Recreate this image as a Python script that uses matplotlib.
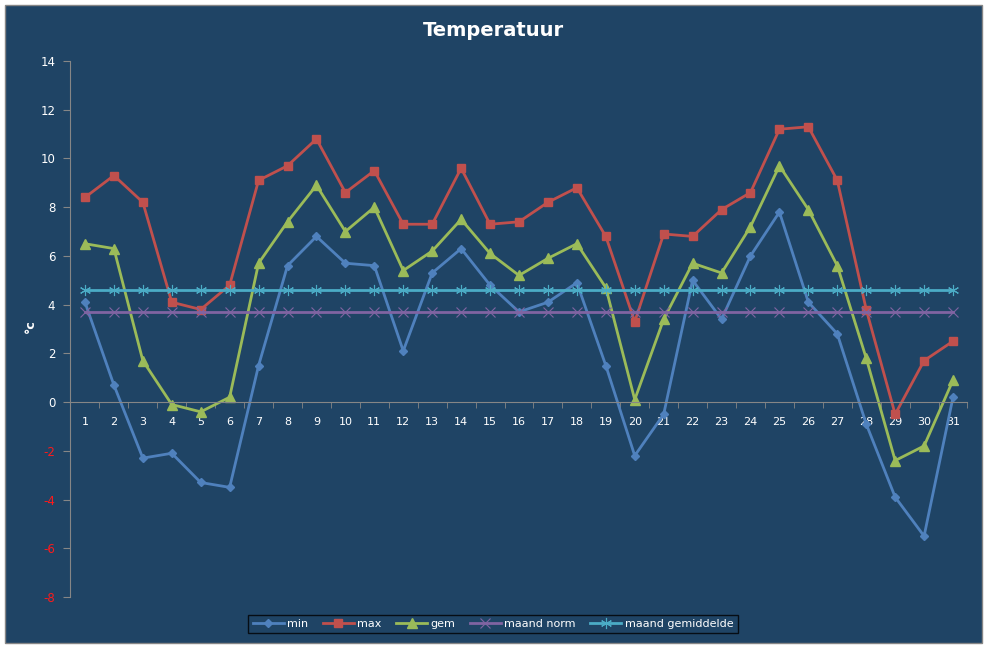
import matplotlib.pyplot as plt
import matplotlib.patches as mpatches
import numpy as np

# daily temperatures (°C)
days = list(range(1, 32))
t_min = [4.1, 0.7, -2.3, -2.1, -3.3, -3.5, 1.5, 5.6, 6.8, 5.7, 5.6, 2.1, 5.3, 6.3, 4.8, 3.7,
         4.1, 4.9, 1.5, -2.2, -0.5, 5.0, 3.4, 6.0, 7.8, 4.1, 2.8, -0.9, -3.9, -5.5, 0.2]
t_max = [8.4, 9.3, 8.2, 4.1, 3.8, 4.8, 9.1, 9.7, 10.8, 8.6, 9.5, 7.3, 7.3, 9.6, 7.3, 7.4,
         8.2, 8.8, 6.8, 3.3, 6.9, 6.8, 7.9, 8.6, 11.2, 11.3, 9.1, 3.8, -0.5, 1.7, 2.5]
t_gem = [6.5, 6.3, 1.7, -0.1, -0.4, 0.2, 5.7, 7.4, 8.9, 7.0, 8.0, 5.4, 6.2, 7.5, 6.1, 5.2,
         5.9, 6.5, 4.7, 0.1, 3.4, 5.7, 5.3, 7.2, 9.7, 7.9, 5.6, 1.8, -2.4, -1.8, 0.9]
maand_norm = [3.7] * 31
maand_gem = [4.6] * 31
y_ticks = list(range(-8, 15, 2))

bg = "#1F4465"
axis_grey = "#868686"

fig = plt.figure(figsize=(9.87, 6.48), dpi=100)
fig.patch.set_facecolor("white")
fig.patches.append(mpatches.Rectangle((5 / 987, 5 / 648), 977 / 987, 638 / 648,
                                      transform=fig.transFigure, facecolor=bg,
                                      edgecolor=axis_grey, linewidth=1, zorder=0))

ax = fig.add_axes([70.5 / 987, 1 - 597 / 648, 897 / 987, 536 / 648])
ax.set_zorder(2)
ax.patch.set_alpha(0)

lw = 2.0
ax.plot(days, t_min, color="#4F81BD", lw=lw, marker="D", ms=4.5, label="min")
ax.plot(days, t_max, color="#C0504D", lw=lw, marker="s", ms=6, label="max")
ax.plot(days, t_gem, color="#9BBB59", lw=lw, marker="^", ms=6.5, label="gem")
ax.plot(days, maand_norm, color="#8064A2", lw=lw, marker="x", ms=6.5, mew=0.8, label="maand norm")
ax.plot(days, maand_gem, color="#4BACC6", lw=lw, marker=(6, 2, 0), ms=8, mew=0.8,
        label="maand gemiddelde")

ax.set_xlim(0.5, 31.5)
ax.set_ylim(-8, 14)

for s in ["top", "right"]:
    ax.spines[s].set_visible(False)
ax.spines["left"].set_color(axis_grey)
ax.spines["bottom"].set_color(axis_grey)
ax.spines["bottom"].set_position(("data", 0))

ax.set_xticks(days)
ax.set_xticklabels([str(d) for d in days])
ax.set_xticks(np.arange(0.5, 32, 1), minor=True)
ax.tick_params(axis="x", which="major", length=0, pad=11, labelcolor="white", labelsize=8)
ax.tick_params(axis="x", which="minor", length=4, color=axis_grey, direction="out")

ax.set_yticks(y_ticks)
ax.set_yticklabels([str(v) for v in y_ticks])
ax.tick_params(axis="y", length=5, color=axis_grey, labelsize=8.5, pad=6)
for lbl, v in zip(ax.get_yticklabels(), y_ticks):
    lbl.set_color("#FF1A1A" if v < 0 else "white")

fig.text(30 / 987, 1 - 326 / 648, "°c", color="white", fontsize=9, rotation=90,
         ha="center", va="center", fontweight="bold")
fig.text(493 / 987, 1 - 30 / 648, "Temperatuur", color="white", fontsize=14,
         fontweight="bold", ha="center", va="center")

leg = fig.legend(loc="center", bbox_to_anchor=(493 / 987, 1 - 624 / 648), ncol=5,
                 frameon=True, fontsize=8, handlelength=2.8, handletextpad=0.3,
                 columnspacing=1.3, borderpad=0.4, fancybox=False)
leg.get_frame().set_facecolor(bg)
leg.get_frame().set_edgecolor("black")
for t in leg.get_texts():
    t.set_color("white")

plt.savefig("out.png", dpi=100)
